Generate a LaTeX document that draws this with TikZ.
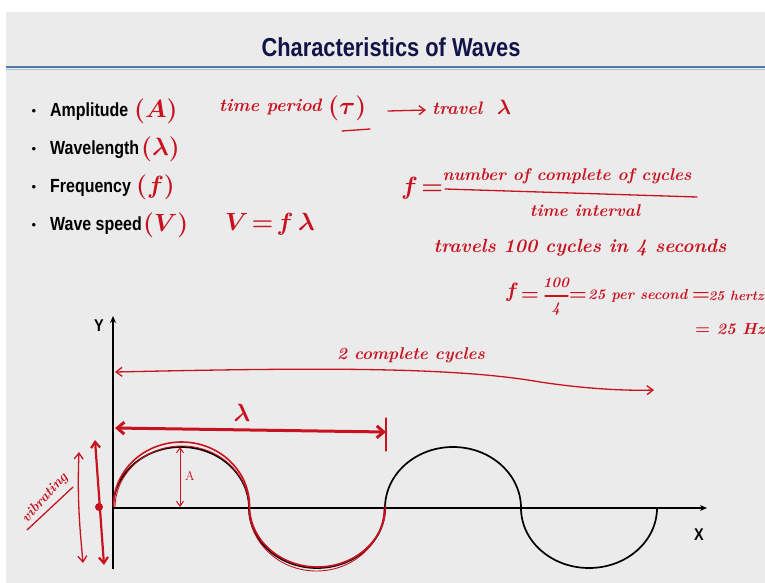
\documentclass[tikz,border=0pt]{standalone}
\usepackage{fontspec}
\newfontfamily\arial{Liberation Sans}
\usetikzlibrary{arrows.meta}
\definecolor{pen}{RGB}{200,18,32}
\definecolor{slide}{RGB}{235,235,235}
\definecolor{titlecol}{RGB}{18,20,72}
\definecolor{rulea}{RGB}{80,120,165}
\definecolor{ruleb}{RGB}{170,195,220}
\begin{document}
\begin{tikzpicture}[x=1pt,y=-1pt,
  hand/.style={text=pen, font=\fontsize{17}{22}\selectfont\bfseries\itshape\boldmath, inner sep=0pt},
  handsm/.style={text=pen, font=\fontsize{14.5}{18}\selectfont\bfseries\itshape\boldmath, inner sep=0pt},
  handbig/.style={text=pen, font=\fontsize{26}{30}\selectfont\boldmath, inner sep=0pt},
  bul/.style={font=\arial\bfseries\fontsize{19}{21}\selectfont, xscale=0.84, anchor=west, inner sep=0pt},
  dot/.style={font=\arial\fontsize{13}{15}\selectfont, inner sep=0pt},
  axislbl/.style={font=\arial\bfseries\fontsize{17}{19}\selectfont, xscale=0.85, inner sep=0pt},
  penline/.style={draw=pen, line width=1.3pt, line cap=round},
  thinarrow/.style={penline, {Straight Barb[length=6pt,width=9pt]}-{Straight Barb[length=6pt,width=9pt]}},
  thickarrow/.style={draw=pen, line width=3pt, line cap=round, {Straight Barb[length=7pt,width=12pt]}-{Straight Barb[length=7pt,width=12pt]}},
  axis/.style={draw=black, line width=1.6pt, -{Stealth[length=7pt,width=6pt]}},
  wave/.style={draw=black, line width=1.7pt}
]
\useasboundingbox (0,0) rectangle (765,583);
\fill[white] (0,0) rectangle (765,583);
\fill[slide] (6,12) rectangle (765,583);

% title and rule
\node[font=\arial\bfseries\fontsize{26}{30}\selectfont, text=titlecol, xscale=0.84, inner sep=0pt] (title) at (391,47) {Characteristics of Waves};
\draw[rulea, line width=2pt] (6,67) -- (765,67);
\draw[ruleb, line width=1.2pt] (6,69.5) -- (765,69.5);

% bullets
\node[dot] (d1) at (34,112) {•};
\node[dot] (d2) at (34,150) {•};
\node[dot] (d3) at (34,188) {•};
\node[dot] (d4) at (34,226) {•};
\node[bul] (b1) at (50,112) {Amplitude};
\node[bul] (b2) at (50,150) {Wavelength};
\node[bul] (b3) at (50,188) {Frequency};
\node[bul] (b4) at (50,226) {Wave speed};

% red annotations on bullets
\node[handbig, anchor=west] (pA) at (134,111) {$(A)$};
\node[handbig, anchor=west] (pL) at (141,149) {$(\lambda)$};
\node[handbig, anchor=west] (pF) at (136,187) {$(f)$};
\node[handbig, anchor=west] (pV) at (143,225) {$(V)$};

% time period line
\node[hand, font=\fontsize{18}{24}\selectfont\bfseries\itshape\boldmath, anchor=west] (tp) at (219,107) {time period};
\node[handbig, font=\fontsize{30}{34}\selectfont\boldmath, anchor=west] (tau) at (328,108) {$(\tau)$};
\coordinate (tauL) at (342,131);
\coordinate (tauR) at (370,129);
\draw[penline] (tauL) -- (tauR);
\coordinate (tpa) at (388,111);
\coordinate (tpb) at (426,110);
\draw[penline, -{Straight Barb[length=6pt,width=9pt]}] (tpa) -- (tpb);
\node[hand, font=\fontsize{18}{24}\selectfont\bfseries\itshape\boldmath, anchor=west] (trav) at (432,107) {travel \ {\fontsize{22}{24}\selectfont$\lambda$}};

% V = f lambda
\node[handbig, font=\fontsize{24}{28}\selectfont\boldmath, anchor=west] (vfl) at (225,224) {$V\!=\!f\,\lambda$};

% frequency definition
\node[handbig, font=\fontsize{24}{28}\selectfont\boldmath, anchor=west] (feq) at (401,188) {$f\!=$};
\node[hand] (num) at (567,176) {number of complete of cycles};
\coordinate (barL) at (445,189);
\coordinate (barR) at (697,197);
\draw[penline] (barL) -- (barR);
\node[hand] (den) at (585,211) {time interval};
\node[hand, font=\fontsize{19}{24}\selectfont\bfseries\itshape] (trv) at (580,248) {travels 100 cycles in 4 seconds};

% f = 100/4 = 25 per second = 25 hertz
\node[hand, font=\fontsize{22}{24}\selectfont\boldmath] (f2) at (512,292) {$f$};
\node[hand, font=\fontsize{20}{24}\selectfont\boldmath] (eq0) at (530,296) {$=$};
\node[handsm] (n100) at (556,283) {100};
\coordinate (fbL) at (545,296);
\coordinate (fbR) at (568,296);
\draw[penline] (fbL) -- (fbR);
\node[handsm] (n4) at (556,309) {4};
\node[hand, font=\fontsize{20}{24}\selectfont\boldmath] (eqa) at (578,296) {$=$};
\node[handsm, anchor=west] (perS) at (588,296) {25 per second};
\node[hand, font=\fontsize{20}{24}\selectfont\boldmath] (eqb) at (701,296) {$=$};
\node[handsm, font=\fontsize{13.5}{18}\selectfont\bfseries\itshape, anchor=east] (hertz) at (764,296) {25 hertz};
\node[handsm, font=\fontsize{16}{18}\selectfont\bfseries\itshape\boldmath, anchor=west] (hz) at (695,329) {$=$ 25 Hz};

% axes
\coordinate (O) at (113,508);
\coordinate (Ybot) at (113,569);
\coordinate (Ytop) at (113,316);
\coordinate (Xend) at (707,508);
\draw[axis] (Ybot) -- (Ytop);
\draw[axis] (O) -- (Xend);
\node[axislbl] (ylab) at (99,326) {Y};
\node[axislbl] (xlab) at (699,535) {X};

% black wave (two cycles)
\draw[wave] (O) arc[start angle=180, end angle=360, x radius=68, y radius=61]
  arc[start angle=180, end angle=0, x radius=68, y radius=60]
  arc[start angle=180, end angle=360, x radius=68, y radius=61]
  arc[start angle=180, end angle=0, x radius=68, y radius=60];

% red tracing of the first cycle
\draw[draw=pen, line width=1.6pt, line cap=round] (113.5,506) arc[start angle=180, end angle=360, x radius=68, y radius=64]
  arc[start angle=180, end angle=0, x radius=68, y radius=61];
\draw[draw=pen, line width=0.9pt, line cap=round] (115,508) arc[start angle=180, end angle=360, x radius=67, y radius=62]
  arc[start angle=180, end angle=0, x radius=67.5, y radius=63];

% two complete cycles arrow
\coordinate (c2L) at (115,372);
\coordinate (c2R) at (654,390);
\draw[thinarrow] (c2L) .. controls (300,368) and (450,366) .. (540,382) .. controls (580,388) and (620,391) .. (c2R);
\node[hand] (c2) at (411,355) {2 complete cycles};

% wavelength arrow
\coordinate (lamL) at (115,428);
\coordinate (lamR) at (386,432);
\draw[thickarrow] (lamL) -- (lamR);
\coordinate (tickT) at (386,418);
\coordinate (tickB) at (386,451);
\draw[penline] (tickT) -- (tickB);
\node[handbig] (lam) at (242,413) {$\lambda$};

% amplitude arrow
\coordinate (ampT) at (180,447);
\coordinate (ampB) at (180,507);
\draw[draw=pen, line width=1pt, {Straight Barb[length=5pt,width=7pt]}-{Straight Barb[length=5pt,width=7pt]}] (ampT) -- (ampB);
\node[text=pen, font=\fontsize{13}{15}\selectfont, inner sep=0pt] (Alab) at (190,476) {A};

% vibrating arrows
\coordinate (vtT) at (95,440);
\coordinate (vtB) at (104,565);
\draw[draw=pen, line width=2.2pt, line cap=round, {Straight Barb[length=6pt,width=9pt]}-{Straight Barb[length=6pt,width=9pt]}] (vtT) -- (vtB);
\fill[pen] (99,507) circle (4);
\coordinate (vsT) at (79,452);
\coordinate (vsB) at (83,563);
\draw[thinarrow] (vsT) .. controls (77,500) and (80,530) .. (vsB);
\node[hand, font=\fontsize{14}{18}\selectfont\bfseries\itshape, rotate=48] (vib) at (45,498) {vibrating};
\coordinate (vuL) at (27,530);
\coordinate (vuR) at (73,487);
\draw[penline] (vuL) -- (vuR);
\end{tikzpicture}
\end{document}
